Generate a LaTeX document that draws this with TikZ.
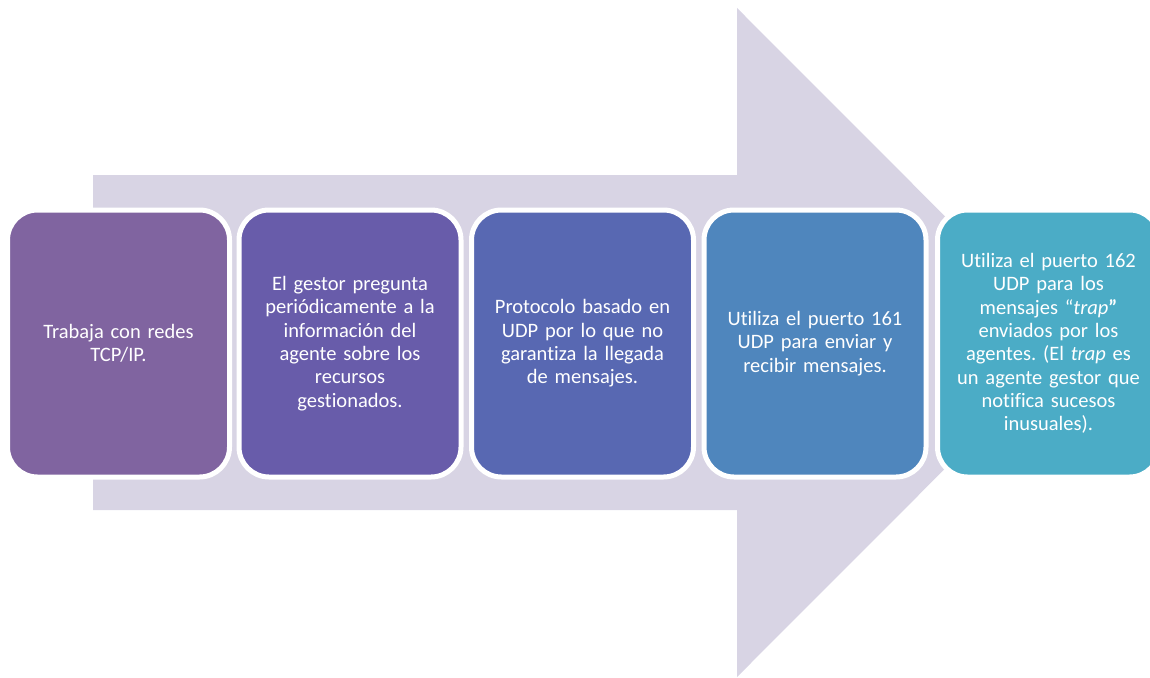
\documentclass[tikz,border=0pt]{standalone}
\usepackage{fontspec}
\setmainfont{Carlito}[Ligatures={NoCommon}]
\frenchspacing
\definecolor{arrowc}{RGB}{216,212,228}
\definecolor{c1}{RGB}{128,100,160}
\definecolor{c2}{RGB}{104,92,170}
\definecolor{c3}{RGB}{88,104,178}
\definecolor{c4}{RGB}{79,134,189}
\definecolor{c5}{RGB}{75,172,198}
\begin{document}
\begin{tikzpicture}[x=1pt,y=-1pt,
  card/.style={draw=white, line width=5pt, rounded corners=30pt,
    minimum width=222pt, minimum height=267pt, inner sep=0pt,
    text width=210pt, align=center, text=white,
    font=\fontsize{20.5}{23.3}\selectfont}]
\useasboundingbox (0,0) rectangle (1150,677);
\clip (0,0) rectangle (1150,677);
\fill[arrowc] (93,175) -- (737,175) -- (737,8) -- (1071,342.5) -- (737,677) -- (737,510) -- (93,510) -- cycle;
\node[card, fill=c1] (b1) at (118.5,343.5) {Trabaja con redes\\TCP/IP.};
\node[card, fill=c2] (b2) at (350,343.5) {El gestor pregunta\\periódicamente a la\\información del\\agente sobre los\\recursos\\gestionados.};
\node[card, fill=c3] (b3) at (582.5,343.5) {Protocolo basado en\\UDP por lo que no\\garantiza la llegada\\de mensajes.};
\node[card, fill=c4] (b4) at (815,343.5) {Utiliza el puerto 161\\UDP para enviar y\\recibir mensajes.};
\node[card, fill=c5] (b5) at (1048.5,343.5) {Utiliza el puerto 162\\UDP para los\\mensajes “\textit{trap}\textbf{”}\\enviados por los\\agentes. (El \textit{trap} es\\un agente gestor que\\notifica sucesos\\inusuales).};
\end{tikzpicture}
\end{document}
